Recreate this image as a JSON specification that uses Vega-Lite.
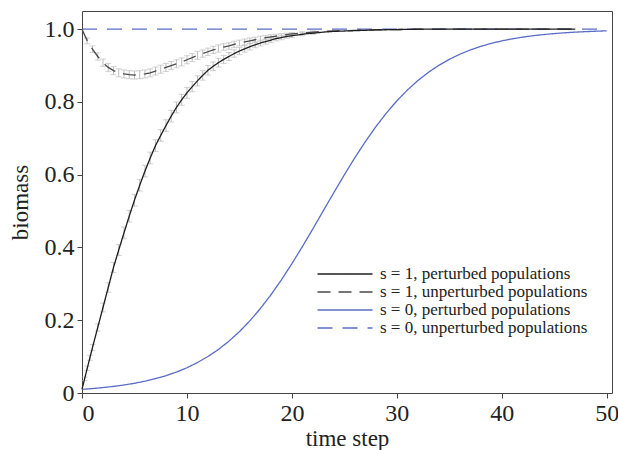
{
  "$schema": "https://vega.github.io/schema/vega-lite/v6.json",
  "width": 530,
  "height": 382,
  "autosize": {"type": "none"},
  "padding": {"left": 82, "top": 11, "right": 6, "bottom": 57},
  "background": "white",
  "config": {
    "view": {"stroke": "#444", "strokeWidth": 1},
    "font": "Liberation Serif",
    "axis": {
      "grid": false, "domain": false, "tickColor": "#444", "tickSize": 5,
      "labelFont": "Liberation Serif", "labelFontSize": 24, "labelColor": "#222",
      "titleFont": "Liberation Serif", "titleFontSize": 23, "titleFontWeight": "normal", "titleColor": "#222",
      "labelPadding": 3
    },
    "legend": {
      "labelFont": "Liberation Serif", "labelFontSize": 17, "labelColor": "#222", "labelLimit": 400
    }
  },
  "datasets": {
    "curves": [
      {"t": 0, "series": "s = 0, unperturbed populations", "y": 1.0},
      {"t": 50, "series": "s = 0, unperturbed populations", "y": 1.0},

      {"t": 0, "series": "s = 0, perturbed populations", "y": 0.0100},
      {"t": 1, "series": "s = 0, perturbed populations", "y": 0.0122},
      {"t": 2, "series": "s = 0, perturbed populations", "y": 0.0149},
      {"t": 3, "series": "s = 0, perturbed populations", "y": 0.0181},
      {"t": 4, "series": "s = 0, perturbed populations", "y": 0.0220},
      {"t": 5, "series": "s = 0, perturbed populations", "y": 0.0267},
      {"t": 6, "series": "s = 0, perturbed populations", "y": 0.0325},
      {"t": 7, "series": "s = 0, perturbed populations", "y": 0.0394},
      {"t": 8, "series": "s = 0, perturbed populations", "y": 0.0476},
      {"t": 9, "series": "s = 0, perturbed populations", "y": 0.0576},
      {"t": 10, "series": "s = 0, perturbed populations", "y": 0.0694},
      {"t": 11, "series": "s = 0, perturbed populations", "y": 0.0836},
      {"t": 12, "series": "s = 0, perturbed populations", "y": 0.1002},
      {"t": 13, "series": "s = 0, perturbed populations", "y": 0.1197},
      {"t": 14, "series": "s = 0, perturbed populations", "y": 0.1424},
      {"t": 15, "series": "s = 0, perturbed populations", "y": 0.1686},
      {"t": 16, "series": "s = 0, perturbed populations", "y": 0.1986},
      {"t": 17, "series": "s = 0, perturbed populations", "y": 0.2323},
      {"t": 18, "series": "s = 0, perturbed populations", "y": 0.2699},
      {"t": 19, "series": "s = 0, perturbed populations", "y": 0.3111},
      {"t": 20, "series": "s = 0, perturbed populations", "y": 0.3555},
      {"t": 21, "series": "s = 0, perturbed populations", "y": 0.4024},
      {"t": 22, "series": "s = 0, perturbed populations", "y": 0.4513},
      {"t": 23, "series": "s = 0, perturbed populations", "y": 0.5013},
      {"t": 24, "series": "s = 0, perturbed populations", "y": 0.5510},
      {"t": 25, "series": "s = 0, perturbed populations", "y": 0.5999},
      {"t": 26, "series": "s = 0, perturbed populations", "y": 0.6468},
      {"t": 27, "series": "s = 0, perturbed populations", "y": 0.6910},
      {"t": 28, "series": "s = 0, perturbed populations", "y": 0.7320},
      {"t": 29, "series": "s = 0, perturbed populations", "y": 0.7694},
      {"t": 30, "series": "s = 0, perturbed populations", "y": 0.8030},
      {"t": 31, "series": "s = 0, perturbed populations", "y": 0.8327},
      {"t": 32, "series": "s = 0, perturbed populations", "y": 0.8587},
      {"t": 33, "series": "s = 0, perturbed populations", "y": 0.8813},
      {"t": 34, "series": "s = 0, perturbed populations", "y": 0.9007},
      {"t": 35, "series": "s = 0, perturbed populations", "y": 0.9172},
      {"t": 36, "series": "s = 0, perturbed populations", "y": 0.9312},
      {"t": 37, "series": "s = 0, perturbed populations", "y": 0.9429},
      {"t": 38, "series": "s = 0, perturbed populations", "y": 0.9528},
      {"t": 39, "series": "s = 0, perturbed populations", "y": 0.9610},
      {"t": 40, "series": "s = 0, perturbed populations", "y": 0.9679},
      {"t": 41, "series": "s = 0, perturbed populations", "y": 0.9735},
      {"t": 42, "series": "s = 0, perturbed populations", "y": 0.9782},
      {"t": 43, "series": "s = 0, perturbed populations", "y": 0.9821},
      {"t": 44, "series": "s = 0, perturbed populations", "y": 0.9853},
      {"t": 45, "series": "s = 0, perturbed populations", "y": 0.9879},
      {"t": 46, "series": "s = 0, perturbed populations", "y": 0.9901},
      {"t": 47, "series": "s = 0, perturbed populations", "y": 0.9919},
      {"t": 48, "series": "s = 0, perturbed populations", "y": 0.9933},
      {"t": 49, "series": "s = 0, perturbed populations", "y": 0.9945},
      {"t": 50, "series": "s = 0, perturbed populations", "y": 0.9955},

      {"t": 0, "series": "s = 1, unperturbed populations", "y": 1.0},
      {"t": 0.5, "series": "s = 1, unperturbed populations", "y": 0.968},
      {"t": 1, "series": "s = 1, unperturbed populations", "y": 0.945},
      {"t": 1.5, "series": "s = 1, unperturbed populations", "y": 0.925},
      {"t": 2, "series": "s = 1, unperturbed populations", "y": 0.908},
      {"t": 2.5, "series": "s = 1, unperturbed populations", "y": 0.895},
      {"t": 3, "series": "s = 1, unperturbed populations", "y": 0.886},
      {"t": 3.5, "series": "s = 1, unperturbed populations", "y": 0.88},
      {"t": 4, "series": "s = 1, unperturbed populations", "y": 0.877},
      {"t": 4.5, "series": "s = 1, unperturbed populations", "y": 0.875},
      {"t": 5, "series": "s = 1, unperturbed populations", "y": 0.874},
      {"t": 5.5, "series": "s = 1, unperturbed populations", "y": 0.875},
      {"t": 6, "series": "s = 1, unperturbed populations", "y": 0.877},
      {"t": 6.5, "series": "s = 1, unperturbed populations", "y": 0.88},
      {"t": 7, "series": "s = 1, unperturbed populations", "y": 0.885},
      {"t": 7.5, "series": "s = 1, unperturbed populations", "y": 0.89},
      {"t": 8, "series": "s = 1, unperturbed populations", "y": 0.895},
      {"t": 8.5, "series": "s = 1, unperturbed populations", "y": 0.9},
      {"t": 9, "series": "s = 1, unperturbed populations", "y": 0.905},
      {"t": 9.5, "series": "s = 1, unperturbed populations", "y": 0.91},
      {"t": 10, "series": "s = 1, unperturbed populations", "y": 0.916},
      {"t": 10.5, "series": "s = 1, unperturbed populations", "y": 0.922},
      {"t": 11, "series": "s = 1, unperturbed populations", "y": 0.928},
      {"t": 11.5, "series": "s = 1, unperturbed populations", "y": 0.933},
      {"t": 12, "series": "s = 1, unperturbed populations", "y": 0.938},
      {"t": 12.5, "series": "s = 1, unperturbed populations", "y": 0.943},
      {"t": 13, "series": "s = 1, unperturbed populations", "y": 0.947},
      {"t": 13.5, "series": "s = 1, unperturbed populations", "y": 0.951},
      {"t": 14, "series": "s = 1, unperturbed populations", "y": 0.954},
      {"t": 14.5, "series": "s = 1, unperturbed populations", "y": 0.958},
      {"t": 15, "series": "s = 1, unperturbed populations", "y": 0.962},
      {"t": 15.5, "series": "s = 1, unperturbed populations", "y": 0.965},
      {"t": 16, "series": "s = 1, unperturbed populations", "y": 0.968},
      {"t": 16.5, "series": "s = 1, unperturbed populations", "y": 0.971},
      {"t": 17, "series": "s = 1, unperturbed populations", "y": 0.974},
      {"t": 17.5, "series": "s = 1, unperturbed populations", "y": 0.977},
      {"t": 18, "series": "s = 1, unperturbed populations", "y": 0.979},
      {"t": 18.5, "series": "s = 1, unperturbed populations", "y": 0.981},
      {"t": 19, "series": "s = 1, unperturbed populations", "y": 0.983},
      {"t": 19.5, "series": "s = 1, unperturbed populations", "y": 0.985},
      {"t": 20, "series": "s = 1, unperturbed populations", "y": 0.987},
      {"t": 21, "series": "s = 1, unperturbed populations", "y": 0.99},
      {"t": 22, "series": "s = 1, unperturbed populations", "y": 0.992},
      {"t": 23, "series": "s = 1, unperturbed populations", "y": 0.994},
      {"t": 24, "series": "s = 1, unperturbed populations", "y": 0.995},
      {"t": 25, "series": "s = 1, unperturbed populations", "y": 0.996},
      {"t": 27, "series": "s = 1, unperturbed populations", "y": 0.998},
      {"t": 30, "series": "s = 1, unperturbed populations", "y": 0.999},
      {"t": 35, "series": "s = 1, unperturbed populations", "y": 1.0},
      {"t": 47, "series": "s = 1, unperturbed populations", "y": 1.0},

      {"t": 0, "series": "s = 1, perturbed populations", "y": 0.01},
      {"t": 0.5, "series": "s = 1, perturbed populations", "y": 0.068},
      {"t": 1, "series": "s = 1, perturbed populations", "y": 0.125},
      {"t": 1.5, "series": "s = 1, perturbed populations", "y": 0.18},
      {"t": 2, "series": "s = 1, perturbed populations", "y": 0.235},
      {"t": 2.5, "series": "s = 1, perturbed populations", "y": 0.29},
      {"t": 3, "series": "s = 1, perturbed populations", "y": 0.345},
      {"t": 3.5, "series": "s = 1, perturbed populations", "y": 0.393},
      {"t": 4, "series": "s = 1, perturbed populations", "y": 0.44},
      {"t": 4.5, "series": "s = 1, perturbed populations", "y": 0.486},
      {"t": 5, "series": "s = 1, perturbed populations", "y": 0.53},
      {"t": 5.5, "series": "s = 1, perturbed populations", "y": 0.571},
      {"t": 6, "series": "s = 1, perturbed populations", "y": 0.61},
      {"t": 6.5, "series": "s = 1, perturbed populations", "y": 0.646},
      {"t": 7, "series": "s = 1, perturbed populations", "y": 0.68},
      {"t": 7.5, "series": "s = 1, perturbed populations", "y": 0.708},
      {"t": 8, "series": "s = 1, perturbed populations", "y": 0.735},
      {"t": 8.5, "series": "s = 1, perturbed populations", "y": 0.761},
      {"t": 9, "series": "s = 1, perturbed populations", "y": 0.785},
      {"t": 9.5, "series": "s = 1, perturbed populations", "y": 0.806},
      {"t": 10, "series": "s = 1, perturbed populations", "y": 0.825},
      {"t": 10.5, "series": "s = 1, perturbed populations", "y": 0.842},
      {"t": 11, "series": "s = 1, perturbed populations", "y": 0.858},
      {"t": 11.5, "series": "s = 1, perturbed populations", "y": 0.873},
      {"t": 12, "series": "s = 1, perturbed populations", "y": 0.887},
      {"t": 12.5, "series": "s = 1, perturbed populations", "y": 0.898},
      {"t": 13, "series": "s = 1, perturbed populations", "y": 0.908},
      {"t": 13.5, "series": "s = 1, perturbed populations", "y": 0.917},
      {"t": 14, "series": "s = 1, perturbed populations", "y": 0.925},
      {"t": 14.5, "series": "s = 1, perturbed populations", "y": 0.933},
      {"t": 15, "series": "s = 1, perturbed populations", "y": 0.94},
      {"t": 15.5, "series": "s = 1, perturbed populations", "y": 0.946},
      {"t": 16, "series": "s = 1, perturbed populations", "y": 0.952},
      {"t": 16.5, "series": "s = 1, perturbed populations", "y": 0.957},
      {"t": 17, "series": "s = 1, perturbed populations", "y": 0.962},
      {"t": 17.5, "series": "s = 1, perturbed populations", "y": 0.966},
      {"t": 18, "series": "s = 1, perturbed populations", "y": 0.97},
      {"t": 18.5, "series": "s = 1, perturbed populations", "y": 0.974},
      {"t": 19, "series": "s = 1, perturbed populations", "y": 0.977},
      {"t": 19.5, "series": "s = 1, perturbed populations", "y": 0.98},
      {"t": 20, "series": "s = 1, perturbed populations", "y": 0.982},
      {"t": 20.5, "series": "s = 1, perturbed populations", "y": 0.984},
      {"t": 21, "series": "s = 1, perturbed populations", "y": 0.986},
      {"t": 21.5, "series": "s = 1, perturbed populations", "y": 0.988},
      {"t": 22, "series": "s = 1, perturbed populations", "y": 0.989},
      {"t": 23, "series": "s = 1, perturbed populations", "y": 0.992},
      {"t": 24, "series": "s = 1, perturbed populations", "y": 0.994},
      {"t": 25, "series": "s = 1, perturbed populations", "y": 0.995},
      {"t": 26, "series": "s = 1, perturbed populations", "y": 0.996},
      {"t": 27, "series": "s = 1, perturbed populations", "y": 0.997},
      {"t": 28, "series": "s = 1, perturbed populations", "y": 0.998},
      {"t": 30, "series": "s = 1, perturbed populations", "y": 0.999},
      {"t": 32, "series": "s = 1, perturbed populations", "y": 1.0},
      {"t": 47, "series": "s = 1, perturbed populations", "y": 1.0}
    ],
    "errs": [
      {"t": 0.5, "y": 0.968, "err": 0.008}, {"t": 1, "y": 0.945, "err": 0.009},
      {"t": 1.5, "y": 0.925, "err": 0.01}, {"t": 2, "y": 0.908, "err": 0.01},
      {"t": 2.5, "y": 0.895, "err": 0.011}, {"t": 3, "y": 0.886, "err": 0.011},
      {"t": 3.5, "y": 0.88, "err": 0.011}, {"t": 4, "y": 0.877, "err": 0.011},
      {"t": 4.5, "y": 0.875, "err": 0.011}, {"t": 5, "y": 0.874, "err": 0.011},
      {"t": 5.5, "y": 0.875, "err": 0.011}, {"t": 6, "y": 0.877, "err": 0.011},
      {"t": 6.5, "y": 0.88, "err": 0.011}, {"t": 7, "y": 0.885, "err": 0.011},
      {"t": 7.5, "y": 0.89, "err": 0.011}, {"t": 8, "y": 0.895, "err": 0.011},
      {"t": 8.5, "y": 0.9, "err": 0.011}, {"t": 9, "y": 0.905, "err": 0.011},
      {"t": 9.5, "y": 0.91, "err": 0.011}, {"t": 10, "y": 0.916, "err": 0.011},
      {"t": 10.5, "y": 0.922, "err": 0.011}, {"t": 11, "y": 0.928, "err": 0.011},
      {"t": 11.5, "y": 0.933, "err": 0.01}, {"t": 12, "y": 0.938, "err": 0.01},
      {"t": 12.5, "y": 0.943, "err": 0.01}, {"t": 13, "y": 0.947, "err": 0.01},
      {"t": 13.5, "y": 0.951, "err": 0.009}, {"t": 14, "y": 0.954, "err": 0.009},
      {"t": 14.5, "y": 0.958, "err": 0.009}, {"t": 15, "y": 0.962, "err": 0.008},
      {"t": 15.5, "y": 0.965, "err": 0.008}, {"t": 16, "y": 0.968, "err": 0.008},
      {"t": 16.5, "y": 0.971, "err": 0.007}, {"t": 17, "y": 0.974, "err": 0.007},
      {"t": 17.5, "y": 0.977, "err": 0.006}, {"t": 18, "y": 0.979, "err": 0.006},
      {"t": 18.5, "y": 0.981, "err": 0.005}, {"t": 19, "y": 0.983, "err": 0.005},
      {"t": 19.5, "y": 0.985, "err": 0.004}, {"t": 20, "y": 0.987, "err": 0.004},
      {"t": 21, "y": 0.99, "err": 0.003}, {"t": 22, "y": 0.992, "err": 0.003},

      {"t": 0.25, "y": 0.039, "err": 0.005}, {"t": 0.5, "y": 0.068, "err": 0.006},
      {"t": 0.75, "y": 0.097, "err": 0.007}, {"t": 1, "y": 0.125, "err": 0.008},
      {"t": 1.5, "y": 0.18, "err": 0.01}, {"t": 2, "y": 0.235, "err": 0.012},
      {"t": 2.5, "y": 0.29, "err": 0.013}, {"t": 3, "y": 0.345, "err": 0.014},
      {"t": 3.5, "y": 0.393, "err": 0.015}, {"t": 4, "y": 0.44, "err": 0.016},
      {"t": 4.5, "y": 0.486, "err": 0.016}, {"t": 5, "y": 0.53, "err": 0.016},
      {"t": 5.5, "y": 0.571, "err": 0.016}, {"t": 6, "y": 0.61, "err": 0.016},
      {"t": 6.5, "y": 0.646, "err": 0.016}, {"t": 7, "y": 0.68, "err": 0.016},
      {"t": 7.5, "y": 0.708, "err": 0.016}, {"t": 8, "y": 0.735, "err": 0.016},
      {"t": 8.5, "y": 0.761, "err": 0.016}, {"t": 9, "y": 0.785, "err": 0.015},
      {"t": 9.5, "y": 0.806, "err": 0.015}, {"t": 10, "y": 0.825, "err": 0.015},
      {"t": 10.5, "y": 0.842, "err": 0.014}, {"t": 11, "y": 0.858, "err": 0.014},
      {"t": 11.5, "y": 0.873, "err": 0.013}, {"t": 12, "y": 0.887, "err": 0.013},
      {"t": 12.5, "y": 0.898, "err": 0.012}, {"t": 13, "y": 0.908, "err": 0.012},
      {"t": 13.5, "y": 0.917, "err": 0.011}, {"t": 14, "y": 0.925, "err": 0.011},
      {"t": 14.5, "y": 0.933, "err": 0.01}, {"t": 15, "y": 0.94, "err": 0.01},
      {"t": 15.5, "y": 0.946, "err": 0.009}, {"t": 16, "y": 0.952, "err": 0.009},
      {"t": 16.5, "y": 0.957, "err": 0.008}, {"t": 17, "y": 0.962, "err": 0.008},
      {"t": 17.5, "y": 0.966, "err": 0.007}, {"t": 18, "y": 0.97, "err": 0.007},
      {"t": 18.5, "y": 0.974, "err": 0.006}, {"t": 19, "y": 0.977, "err": 0.006},
      {"t": 19.5, "y": 0.98, "err": 0.005}, {"t": 20, "y": 0.982, "err": 0.005},
      {"t": 21, "y": 0.986, "err": 0.004}, {"t": 22, "y": 0.989, "err": 0.003}
    ]
  },
  "layer": [
    {
      "data": {"name": "errs"},
      "mark": {"type": "errorbar", "ticks": {"size": 6, "color": "#bdbdbd", "thickness": 1}, "rule": {"color": "#bdbdbd", "strokeWidth": 1}},
      "encoding": {
        "x": {"field": "t", "type": "quantitative", "title": "time step", "scale": {"domain": [0, 50.5], "nice": false}},
        "y": {"field": "y", "type": "quantitative", "title": "biomass", "scale": {"domain": [0, 1.05], "nice": false}},
        "yError": {"field": "err"}
      }
    },
    {
      "data": {"name": "curves"},
      "mark": {"type": "line", "strokeWidth": 1.3},
      "encoding": {
        "x": {
          "field": "t", "type": "quantitative",
          "scale": {"domain": [0, 50.5], "nice": false},
          "axis": {"values": [0, 10, 20, 30, 40, 50], "title": "time step", "titlePadding": 2}
        },
        "y": {
          "field": "y", "type": "quantitative",
          "scale": {"domain": [0, 1.05], "nice": false},
          "axis": {"values": [0, 0.2, 0.4, 0.6, 0.8, 1.0], "title": "biomass", "titlePadding": 12,
                   "labelExpr": "datum.value == 0 ? '0' : format(datum.value, '.1f')"}
        },
        "color": {
          "field": "series", "type": "nominal",
          "scale": {
            "domain": ["s = 1, perturbed populations", "s = 1, unperturbed populations", "s = 0, perturbed populations", "s = 0, unperturbed populations"],
            "range": ["#1e1e1e", "#4a4a4a", "#5a6cc6", "#5a6cc6"]
          },
          "legend": {
            "title": null, "orient": "none", "legendX": 253, "legendY": 253,
            "symbolType": "M-3,0H3", "symbolSize": 336, "symbolStrokeWidth": 1.3,
            "labelOffset": 25, "rowPadding": 0, "padding": 0
          }
        },
        "strokeDash": {
          "field": "series", "type": "nominal",
          "scale": {
            "domain": ["s = 1, perturbed populations", "s = 1, unperturbed populations", "s = 0, perturbed populations", "s = 0, unperturbed populations"],
            "range": [[1, 0], [13, 8], [1, 0], [15, 10]]
          },
          "legend": null
        },
        "order": {"field": "t", "type": "quantitative"}
      }
    }
  ]
}
